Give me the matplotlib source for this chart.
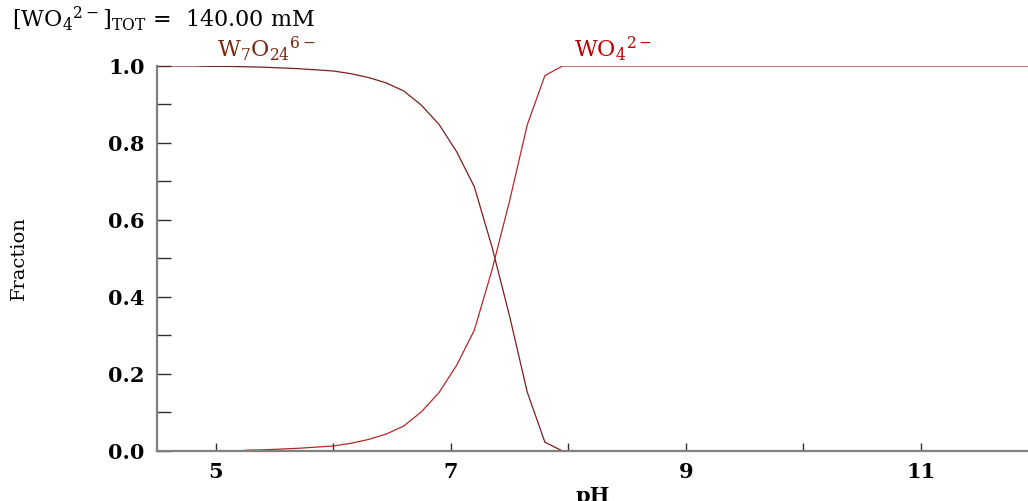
import numpy as np
import matplotlib
matplotlib.use("Agg")
import matplotlib.pyplot as plt
from matplotlib.ticker import MultipleLocator, FixedLocator

plt.rcParams['font.family'] = ['DejaVu Serif']
plt.rcParams['mathtext.fontset'] = 'dejavuserif'

# ------------------ DATA ------------------
ph_w7 = [4.5, 4.65, 4.8, 4.95, 5.1, 5.25, 5.4, 5.55, 5.7, 5.85, 6.0, 6.15,
         6.3, 6.45, 6.6, 6.75, 6.9, 7.05, 7.2, 7.35, 7.5, 7.65, 7.8, 7.95]
frac_w7 = [1.000, 1.000, 1.000, 0.999, 0.999, 0.998, 0.997, 0.995, 0.993,
           0.990, 0.987, 0.980, 0.970, 0.956, 0.935, 0.898, 0.848, 0.777,
           0.686, 0.530, 0.350, 0.153, 0.023, 0.000]

ph_wo4 = [5.25, 5.4, 5.55, 5.7, 5.85, 6.0, 6.15, 6.3, 6.45, 6.6, 6.75, 6.9,
          7.05, 7.2, 7.35, 7.5, 7.65, 7.8, 7.95, 8.1, 9.0, 10.0, 11.0, 12.0]
frac_wo4 = [0.002, 0.003, 0.005, 0.007, 0.010, 0.013, 0.020, 0.030, 0.044,
            0.065, 0.102, 0.152, 0.223, 0.314, 0.470, 0.650, 0.847, 0.975,
            1.000, 1.000, 1.000, 1.000, 1.000, 1.000]

x_labels = [5, 7, 9, 11]
y_labels = [0.0, 0.2, 0.4, 0.6, 0.8, 1.0]

# ------------------ PLOT ------------------
fig = plt.figure(figsize=(10.28, 5.01), dpi=100)
ax = fig.add_axes([0.1527, 0.0998, 0.8473, 0.7685])

ax.plot(ph_w7, frac_w7, color='#7a1f1f', lw=0.9)
ax.plot(ph_wo4, frac_wo4, color='#b42828', lw=0.9)

ax.set_xlim(4.5, 11.91)
ax.set_ylim(0, 1)

ax.spines['top'].set_visible(False)
ax.spines['right'].set_visible(False)
for s in ['left', 'bottom']:
    ax.spines[s].set_color('#808080')
    ax.spines[s].set_linewidth(1.6)

ax.xaxis.set_major_locator(FixedLocator(x_labels))
ax.xaxis.set_minor_locator(MultipleLocator(1))
ax.yaxis.set_major_locator(FixedLocator(y_labels))
ax.yaxis.set_minor_locator(MultipleLocator(0.1))
ax.set_xticklabels([str(v) for v in x_labels])
ax.set_yticklabels([f"{v:.1f}" for v in y_labels])

ax.tick_params(axis='x', which='both', direction='in', length=6, width=1,
               color='#303030', labelsize=15, pad=8)
ax.tick_params(axis='y', which='both', direction='in', length=10, width=1,
               color='#303030', labelsize=15, pad=9)
for lab in ax.get_xticklabels() + ax.get_yticklabels():
    lab.set_fontweight('bold')

ax.set_xlabel('pH', fontsize=15, fontweight='bold', labelpad=3)
ax.set_ylabel('Fraction', fontsize=14)
ax.yaxis.set_label_coords(-0.148, 0.5)

fig.text(0.012, 0.962, r'[WO$_4$$^{2-}$]$_{\mathrm{TOT}}$ =  140.00 mM',
         fontsize=16, va='center', ha='left')

ax.text(5.43, 1.008, r'W$_7$O$_{24}$$^{6-}$', color='#7a2a10', fontsize=16,
        ha='center', va='bottom')
ax.text(8.38, 1.008, r'WO$_4$$^{2-}$', color='#c00000', fontsize=16,
        ha='center', va='bottom')

fig.savefig('out.png', dpi=100)
